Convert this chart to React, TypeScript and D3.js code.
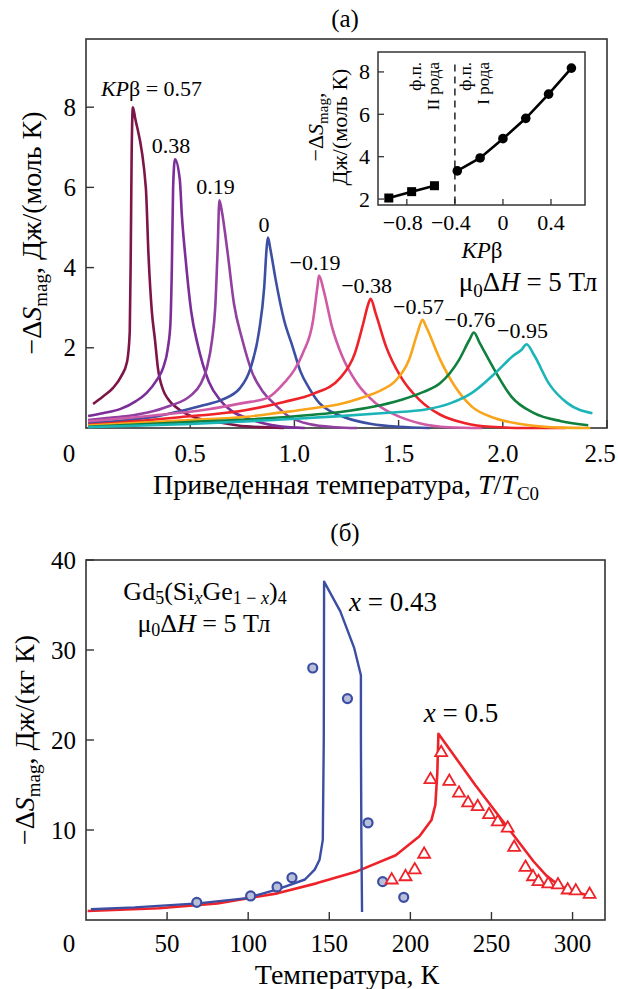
import React from "react";
import * as d3 from "d3";

const FONT = "Liberation Serif, Times New Roman, serif";

// ---------- Panel (а): model curves, T/T_C0 vs -ΔS ----------
const kpValues = [0.57, 0.38, 0.19, 0, -0.19, -0.38, -0.57, -0.76, -0.95];
const kpLabels = ["0.57", "0.38", "0.19", "0", "−0.19", "−0.38", "−0.57", "−0.76", "−0.95"];
const curveColors = ["#7d1548", "#7b2d98", "#9140a0", "#3c4fa3", "#cf5aa6", "#ee2229", "#f9a51c", "#10803e", "#1bb5b8"];

const curveP057 = [[0.034,0.6],[0.08,0.78],[0.13,1.0],[0.17,1.3],[0.197,1.65],[0.21,2.4],[0.215,4.5],[0.219,6.8],[0.225,8.0],[0.235,7.75],[0.287,6.0],[0.3,4.3],[0.316,2.9],[0.331,2.2],[0.345,1.5],[0.37,0.95],[0.39,0.75],[0.45,0.45],[0.53,0.25],[0.61,0.17],[0.77,0.04],[0.95,0.0]];
const curveP038 = [[0.01,0.3],[0.08,0.37],[0.163,0.47],[0.24,0.67],[0.29,0.87],[0.34,1.2],[0.37,1.5],[0.393,2.0],[0.405,2.6],[0.412,4.0],[0.418,6.0],[0.427,6.7],[0.45,6.2],[0.46,5.3],[0.48,4.1],[0.505,2.9],[0.535,2.1],[0.56,1.6],[0.59,1.15],[0.643,0.7],[0.7,0.42],[0.77,0.25],[0.85,0.12],[0.93,0.04],[1.05,0.0]];
const curveP019 = [[0.01,0.2],[0.1,0.25],[0.2,0.3],[0.29,0.38],[0.4,0.55],[0.5,0.8],[0.55,1.1],[0.58,1.5],[0.605,2.2],[0.62,3.0],[0.632,4.5],[0.64,5.68],[0.652,5.4],[0.68,4.35],[0.71,3.1],[0.75,2.2],[0.8,1.35],[0.85,0.9],[0.9,0.62],[0.97,0.3],[1.07,0.1],[1.2,0.02],[1.3,0.0]];
const curveZero = [[0.01,0.13],[0.2,0.2],[0.35,0.3],[0.45,0.42],[0.55,0.55],[0.65,0.7],[0.74,1.0],[0.79,1.5],[0.83,2.4],[0.855,3.5],[0.867,4.5],[0.873,4.75],[0.885,4.45],[0.91,3.7],[0.95,2.7],[0.99,2.05],[1.03,1.4],[1.07,1.0],[1.12,0.62],[1.18,0.4],[1.25,0.25],[1.37,0.1],[1.5,0.03],[1.65,0.0]];
const curveM019 = [[0.01,0.17],[0.3,0.3],[0.58,0.46],[0.75,0.62],[0.87,0.75],[0.955,1.15],[1.0,1.45],[1.04,1.86],[1.09,2.7],[1.11,3.5],[1.118,3.8],[1.14,3.44],[1.18,2.53],[1.23,1.78],[1.3,1.12],[1.39,0.62],[1.5,0.29],[1.6,0.12],[1.74,0.02],[1.9,0.0]];
const curveM038 = [[0.01,0.08],[0.45,0.27],[0.77,0.45],[0.95,0.65],[1.09,0.85],[1.22,1.25],[1.29,1.86],[1.33,2.6],[1.355,3.1],[1.366,3.22],[1.39,2.86],[1.44,2.03],[1.51,1.28],[1.6,0.7],[1.7,0.33],[1.82,0.12],[1.94,0.03],[2.1,0.0],[2.3,0.0]];
const curveM057 = [[0.01,0.06],[0.5,0.2],[0.77,0.28],[0.91,0.37],[1.1,0.5],[1.22,0.6],[1.32,0.75],[1.42,0.95],[1.48,1.15],[1.55,1.7],[1.59,2.36],[1.615,2.7],[1.63,2.55],[1.7,1.7],[1.77,1.04],[1.85,0.54],[1.96,0.25],[2.11,0.08],[2.28,0.01],[2.42,0.0]];
const curveM076 = [[0.01,0.03],[0.5,0.15],[0.8,0.22],[1.09,0.33],[1.22,0.4],[1.51,0.7],[1.62,0.9],[1.7,1.12],[1.79,1.7],[1.84,2.2],[1.861,2.38],[1.89,2.11],[1.96,1.45],[2.04,0.79],[2.15,0.37],[2.28,0.17],[2.41,0.07]];
const curveM095 = [[0.01,0.02],[0.5,0.1],[0.9,0.2],[1.2,0.29],[1.45,0.38],[1.63,0.46],[1.75,0.62],[1.85,0.87],[1.97,1.4],[2.05,1.8],[2.09,1.95],[2.114,2.09],[2.15,1.82],[2.22,1.12],[2.31,0.62],[2.43,0.37]];
const curvesA = [curveP057, curveP038, curveP019, curveZero, curveM019, curveM038, curveM057, curveM076, curveM095];

const xTicksA = [0.5, 1.0, 1.5, 2.0, 2.5];
const yTicksA = [2, 4, 6, 8];

// Inset: peak -ΔS vs KPβ
const insetSecondOrder = [[-0.95, 2.05], [-0.76, 2.35], [-0.57, 2.63]];
const insetFirstOrder = [[-0.38, 3.33], [-0.19, 3.94], [0, 4.85], [0.19, 5.81], [0.38, 6.95], [0.57, 8.18]];
const insetXTicks = [-0.8, -0.4, 0, 0.4];
const insetYTicks = [2, 4, 6, 8];
const insetBoundary = -0.4;

// ---------- Panel (б): Gd5(SixGe1-x)4 ----------
const lineX043 = [[3,1.2],[30,1.4],[69,1.85],[98,2.4],[118,3.4],[135,4.5],[141,5.6],[144,6.7],[146,8.9],[146.6,20],[146.8,37.6],[156.8,34.3],[165.4,30.2],[169.5,27.2],[169.5,20],[169.8,8.9],[170.2,0.9]];
const lineX05 = [[1,1.0],[45,1.3],[81,1.85],[118,2.96],[142,4.07],[167,5.4],[191,7.2],[205.6,9.3],[213,11.1],[215.4,12.8],[216.6,16.3],[217.3,20.7],[240,15.0],[262,9.8],[276,6.5],[284,4.9],[292,3.8],[300,3.2],[310.5,2.7]];
const pointsX043 = [[68.3,1.96],[101.5,2.67],[117.8,3.67],[127,4.7],[139.8,28.0],[161.2,24.6],[173.9,10.8],[182.9,4.26],[195.9,2.52]];
const pointsX05 = [[188.5,4.44],[197,4.8],[202.7,5.56],[208.5,7.3],[212.4,15.6],[219,18.6],[224,15.4],[230,14.1],[235.6,13.0],[241.5,12.6],[248.5,11.7],[253.9,10.9],[260,10.2],[264,8.07],[271,5.85],[275.6,4.8],[279,4.26],[285,4.0],[291,3.9],[297,3.33],[302,3.22],[310.5,2.85]];
const xTicksB = [50, 100, 150, 200, 250, 300];
const yTicksB = [10, 20, 30, 40];

// ---------- layout ----------
const A = { left: 86, right: 607, top: 39, bottom: 428 };
const I = { left: 378, right: 585, top: 52, bottom: 205 };
const B = { left: 86, right: 605, top: 560, bottom: 920 };

const xA = d3.scaleLinear().domain([0, 2.5]).range([A.left, A.right]);
const yA = d3.scaleLinear().domain([0, 9.7]).range([A.bottom, A.top]);
const xI = d3.scaleLinear().domain([-1.04, 0.683]).range([I.left, I.right]);
const yI = d3.scaleLinear().domain([1.72, 8.94]).range([I.bottom, I.top]);
const xB = d3.scaleLinear().domain([0, 320]).range([B.left, B.right]);
const yB = d3.scaleLinear().domain([0, 40]).range([B.bottom, B.top]);

const AX = "#333";
const TICK_FS = 25;
const TITLE_FS = 28;

export default function App() {
  const lineA = d3.line<number[]>().x(d => xA(d[0])).y(d => yA(d[1])).curve(d3.curveMonotoneX);
  const lineI = d3.line<number[]>().x(d => xI(d[0])).y(d => yI(d[1]));
  const lineB = d3.line<number[]>().x(d => xB(d[0])).y(d => yB(d[1]));
  const tri = d3.symbol().type(d3.symbolTriangle).size(62)();

  return (
    <svg width={618} height={989} style={{ display: "block", position: "absolute", left: 0, top: 0, background: "#fff", fontFamily: FONT }} fontFamily={FONT}>
      <rect x={0} y={0} width={618} height={989} fill="#fff" />
      {/* ===== Panel (а) ===== */}
      <text x={345} y={27} fontSize={25} textAnchor="middle">(а)</text>
      <rect x={A.left} y={A.top} width={A.right - A.left} height={A.bottom - A.top} fill="none" stroke={AX} strokeWidth={1.6} />
      {xTicksA.map(t => (
        <g key={"xa" + t}>
          <line x1={xA(t)} x2={xA(t)} y1={A.bottom} y2={A.bottom - 8} stroke={AX} strokeWidth={1.4} />
          <text x={Math.min(xA(t), 600)} y={462} fontSize={TICK_FS} textAnchor="middle">{t.toFixed(1)}</text>
        </g>
      ))}
      <text x={69} y={462} fontSize={TICK_FS} textAnchor="middle">0</text>
      {yTicksA.map(t => (
        <g key={"ya" + t}>
          <line x1={A.left} x2={A.left + 8} y1={yA(t)} y2={yA(t)} stroke={AX} strokeWidth={1.4} />
          <text x={76} y={yA(t) + 8.5} fontSize={TICK_FS} textAnchor="end">{t}</text>
        </g>
      ))}
      <text x={346} y={494} fontSize={TITLE_FS} textAnchor="middle">
        Приведенная температура, <tspan fontStyle="italic">T</tspan>/<tspan fontStyle="italic">T</tspan>
        <tspan dy={6} fontSize={19}>C0</tspan>
      </text>
      <text transform={`translate(41,233) rotate(-90)`} fontSize={TITLE_FS} textAnchor="middle">
        −Δ<tspan fontStyle="italic">S</tspan><tspan dy={6} fontSize={19}>mag</tspan><tspan dy={-6}>, Дж/(моль К)</tspan>
      </text>

      {curvesA.map((c, i) => (
        <path key={"c" + i} d={lineA(c) || ""} fill="none" stroke={curveColors[i]} strokeWidth={2.6} strokeLinejoin="round" />
      ))}
      {curvesA.map((c, i) => {
        const peak = c.reduce((m, d) => (d[1] > m[1] ? d : m), c[0]);
        const px = xA(peak[0]);
        const py = yA(peak[1]);
        if (i === 0) {
          return (
            <text key={"l" + i} x={px - 32} y={py - 19 + 8} fontSize={22} textAnchor="start">
              <tspan fontStyle="italic">KP</tspan>β = {kpLabels[i]}
            </text>
          );
        }
        return (
          <text key={"l" + i} x={px - 4} y={py - 14 + 8} fontSize={22} textAnchor="middle">{kpLabels[i]}</text>
        );
      })}
      <text x={528} y={291} fontSize={27} textAnchor="middle">
        μ<tspan dy={6} fontSize={19}>0</tspan><tspan dy={-6}>Δ</tspan><tspan fontStyle="italic">H</tspan> = 5 Тл
      </text>

      {/* Inset */}
      <rect x={I.left} y={I.top} width={I.right - I.left} height={I.bottom - I.top} fill="#fff" stroke={AX} strokeWidth={1.5} />
      {insetXTicks.map(t => (
        <g key={"xi" + t}>
          <line x1={xI(t)} x2={xI(t)} y1={I.bottom} y2={I.bottom - 6} stroke={AX} strokeWidth={1.3} />
          <text x={xI(t) - (t < 0 ? 4 : 0)} y={230} fontSize={22} textAnchor="middle">{t === 0 ? "0" : (t < 0 ? "−" : "") + Math.abs(t).toFixed(1)}</text>
        </g>
      ))}
      {insetYTicks.map(t => (
        <g key={"yi" + t}>
          <line x1={I.left} x2={I.left + 6} y1={yI(t)} y2={yI(t)} stroke={AX} strokeWidth={1.3} />
          <text x={370} y={yI(t) + 7.5} fontSize={22} textAnchor="end">{t}</text>
        </g>
      ))}
      <line x1={xI(insetBoundary)} x2={xI(insetBoundary)} y1={yI(8.35)} y2={I.bottom} stroke="#222" strokeWidth={1.5} strokeDasharray="7,5" />
      <path d={lineI(insetSecondOrder) || ""} fill="none" stroke="#000" strokeWidth={2.6} />
      <path d={lineI(insetFirstOrder) || ""} fill="none" stroke="#000" strokeWidth={2.6} />
      {insetSecondOrder.map((d, i) => (
        <rect key={"sq" + i} x={xI(d[0]) - 4.5} y={yI(d[1]) - 4.5} width={9} height={9} fill="#000" />
      ))}
      {insetFirstOrder.map((d, i) => (
        <circle key={"ci" + i} cx={xI(d[0])} cy={yI(d[1])} r={4.8} fill="#000" />
      ))}
      <text transform={`translate(${xI(insetBoundary) - 34},62) rotate(-90)`} fontSize={17} textAnchor="end">ф.п.</text>
      <text transform={`translate(${xI(insetBoundary) - 16},62) rotate(-90)`} fontSize={17} textAnchor="end">II рода</text>
      <text transform={`translate(${xI(insetBoundary) + 16},62) rotate(-90)`} fontSize={17} textAnchor="end">ф.п.</text>
      <text transform={`translate(${xI(insetBoundary) + 34},62) rotate(-90)`} fontSize={17} textAnchor="end">I рода</text>
      <text transform={`translate(323,127) rotate(-90)`} fontSize={22} textAnchor="middle">
        −Δ<tspan fontStyle="italic">S</tspan><tspan dy={5} fontSize={15}>mag</tspan><tspan dy={-5}>,</tspan>
      </text>
      <text transform={`translate(347,127) rotate(-90)`} fontSize={22} textAnchor="middle">Дж/(моль К)</text>
      <text x={482} y={258} fontSize={23} textAnchor="middle">
        <tspan fontStyle="italic">KP</tspan>β
      </text>

      {/* ===== Panel (б) ===== */}
      <text x={345} y={541} fontSize={25} textAnchor="middle">(б)</text>
      <rect x={B.left} y={B.top} width={B.right - B.left} height={B.bottom - B.top} fill="none" stroke={AX} strokeWidth={1.6} />
      {xTicksB.map(t => (
        <g key={"xb" + t}>
          <line x1={xB(t)} x2={xB(t)} y1={B.bottom} y2={B.bottom - 8} stroke={AX} strokeWidth={1.4} />
          <text x={xB(t)} y={952} fontSize={TICK_FS} textAnchor="middle">{t}</text>
        </g>
      ))}
      <text x={69} y={952} fontSize={TICK_FS} textAnchor="middle">0</text>
      {yTicksB.map(t => (
        <g key={"yb" + t}>
          <line x1={B.left} x2={B.left + 8} y1={yB(t)} y2={yB(t)} stroke={AX} strokeWidth={1.4} />
          <text x={76} y={yB(t) + 8.5} fontSize={TICK_FS} textAnchor="end">{t}</text>
        </g>
      ))}
      <text x={347} y={984} fontSize={TITLE_FS} textAnchor="middle">Температура, К</text>
      <text transform={`translate(34,740) rotate(-90)`} fontSize={TITLE_FS} textAnchor="middle">
        −Δ<tspan fontStyle="italic">S</tspan><tspan dy={6} fontSize={19}>mag</tspan><tspan dy={-6}>, Дж/(кг К)</tspan>
      </text>

      <path d={lineB(lineX05) || ""} fill="none" stroke="#ee2229" strokeWidth={2.6} strokeLinejoin="round" />
      <path d={lineB(lineX043) || ""} fill="none" stroke="#3b4ea3" strokeWidth={2.4} strokeLinejoin="round" />
      {pointsX043.map((d, i) => (
        <circle key={"pb" + i} cx={xB(d[0])} cy={yB(d[1])} r={4.5} fill="#b9bfd9" stroke="#3b4ea3" strokeWidth={2.2} />
      ))}
      {pointsX05.map((d, i) => (
        <path key={"pt" + i} d={tri || ""} transform={`translate(${xB(d[0])},${yB(d[1])})`} fill="#fff" stroke="#ee2229" strokeWidth={1.8} />
      ))}

      <text x={205} y={600} fontSize={26} textAnchor="middle">
        Gd<tspan dy={4} fontSize={18}>5</tspan><tspan dy={-4}>(Si</tspan><tspan dy={4} fontSize={18} fontStyle="italic">x</tspan><tspan dy={-4}>Ge</tspan><tspan dy={4} fontSize={18}>1 − <tspan fontStyle="italic">x</tspan></tspan><tspan dy={-4}>)</tspan><tspan dy={4} fontSize={18}>4</tspan>
      </text>
      <text x={204} y={632} fontSize={26} textAnchor="middle">
        μ<tspan dy={4} fontSize={18}>0</tspan><tspan dy={-4}>Δ</tspan><tspan fontStyle="italic">H</tspan> = 5 Тл
      </text>
      <text x={393} y={611} fontSize={27} textAnchor="middle">
        <tspan fontStyle="italic">x</tspan> = 0.43
      </text>
      <text x={461} y={722} fontSize={27} textAnchor="middle">
        <tspan fontStyle="italic">x</tspan> = 0.5
      </text>
    </svg>
  );
}
